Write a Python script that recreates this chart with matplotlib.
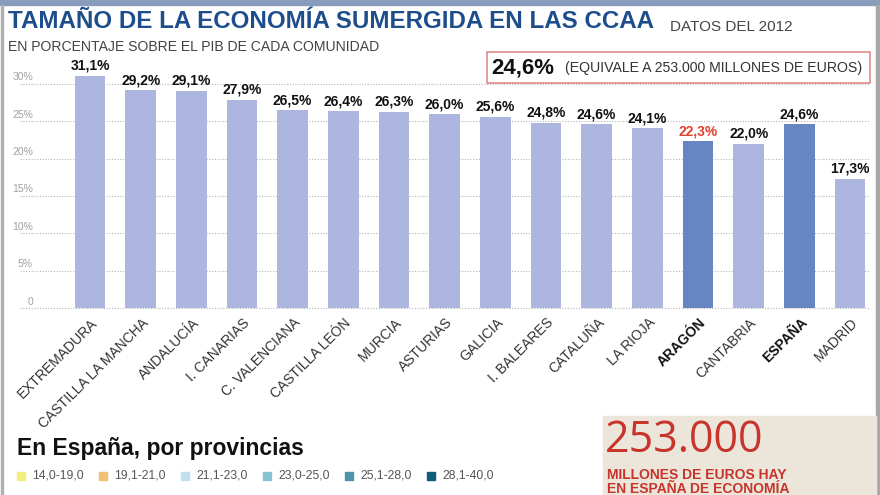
import matplotlib.pyplot as plt
from matplotlib.patches import Rectangle
import matplotlib.transforms as mtransforms

plt.rcParams['font.family'] = ['Liberation Sans', 'DejaVu Sans']

# datos
regiones = ['EXTREMADURA', 'CASTILLA LA MANCHA', 'ANDALUCÍA', 'I. CANARIAS',
            'C. VALENCIANA', 'CASTILLA LEÓN', 'MURCIA', 'ASTURIAS', 'GALICIA',
            'I. BALEARES', 'CATALUÑA', 'LA RIOJA', 'ARAGÓN', 'CANTABRIA',
            'ESPAÑA', 'MADRID']
valores = [31.1, 29.2, 29.1, 27.9, 26.5, 26.4, 26.3, 26.0, 25.6, 24.8,
           24.6, 24.1, 22.3, 22.0, 24.6, 17.3]
destacados = ['ARAGÓN', 'ESPAÑA']
y_ticks = [0, 5, 10, 15, 20, 25, 30]
y_labels = ['0', '5%', '10%', '15%', '20%', '25%', '30%']
rangos = ['14,0-19,0', '19,1-21,0', '21,1-23,0', '23,0-25,0', '25,1-28,0', '28,1-40,0']
colores_rango = ['#f3ee7e', '#f2c072', '#bfe1ef', '#86c3d3', '#4f93ab', '#0f5d78']

W, H = 880, 495
fig = plt.figure(figsize=(W / 100, H / 100), dpi=100)


def fx(px):
    return px / W


def fy(py):
    return 1 - py / H


# marco
fig.patches.append(Rectangle((0, fy(5)), 1, 5 / H, transform=fig.transFigure,
                             color='#8a9cbc', zorder=0))
fig.patches.append(Rectangle((fx(0.5), 0), 2 / W, fy(5), transform=fig.transFigure,
                             color='#b0b0b0', zorder=0))
fig.patches.append(Rectangle((fx(876), 0), 4 / W, fy(5), transform=fig.transFigure,
                             color='#a8a8a8', zorder=0))

ax = fig.add_axes([fx(20), fy(308), fx(870) - fx(20), (33 * 7.47) / H])
ax.set_xlim(-1.381, 15.394)
ax.set_ylim(0, 33)

colores = ['#6685c1' if r in destacados else '#adb6de' for r in regiones]
x = list(range(len(regiones)))
ax.bar(x, valores, width=0.61, color=colores, zorder=2)

for i, (r, v) in enumerate(zip(regiones, valores)):
    c = '#e0402e' if r == 'ARAGÓN' else '#111111'
    ax.annotate(f'{v:.1f}%'.replace('.', ','), (i, v), xytext=(0, 2),
                textcoords='offset points', ha='center', va='bottom',
                fontsize=10, fontweight='bold', color=c)
    bold = r in destacados
    ax.annotate(r, (i, 0), xytext=(4, -9), textcoords='offset points',
                rotation=45, rotation_mode='anchor', ha='right', va='center',
                fontsize=10, fontweight='bold' if bold else 'normal',
                color='#111111' if bold else '#333333')

ax.set_yticks(y_ticks)
ax.yaxis.grid(True, linestyle=(0, (1, 1.5)), color='#b8b8b8', linewidth=0.8, zorder=0)
ax.axhline(0, linestyle=(0, (1, 1.5)), color='#b8b8b8', linewidth=0.8, zorder=1,
           clip_on=False)
ax.set_yticklabels([])
ax.tick_params(length=0)
ax.set_xticks([])
for s in ax.spines.values():
    s.set_visible(False)
trans = mtransforms.blended_transform_factory(ax.transAxes, ax.transData)
for t, lab in zip(y_ticks, y_labels):
    ax.text(fx(33 - 20) / (fx(870) - fx(20)), t + 0.2, lab, transform=trans,
            ha='right', va='bottom', fontsize=7.5, color='#a0a0a0')

# textos cabecera
fig.text(fx(8), fy(22), 'TAMAÑO DE LA ECONOMÍA SUMERGIDA EN LAS CCAA',
         fontsize=17.4, fontweight='bold', color='#1e4d8c', va='center')
fig.text(fx(8), fy(47), 'EN PORCENTAJE SOBRE EL PIB DE CADA COMUNIDAD',
         fontsize=10.1, color='#444444', va='center')
fig.text(fx(670), fy(27), 'DATOS DEL 2012', fontsize=11, color='#444444', va='center')

fig.patches.append(Rectangle((fx(487), fy(83)), fx(870) - fx(487), 31 / H,
                             transform=fig.transFigure, facecolor='white',
                             edgecolor='#e08a8a', lw=1.2, zorder=1))
fig.text(fx(491), fy(68), '24,6%', fontsize=16, fontweight='bold', color='#111111',
         va='center')
fig.text(fx(565), fy(68), '(EQUIVALE A 253.000 MILLONES DE EUROS)', fontsize=10.2,
         color='#333333', va='center')

# provincias
fig.text(fx(17), fy(449), 'En España, por provincias', fontsize=16.5,
         fontweight='bold', color='#111111', va='center')
for i, (r, c) in enumerate(zip(rangos, colores_rango)):
    x0 = 17 + i * 82
    fig.patches.append(Rectangle((fx(x0), fy(480)), 8 / W, 8 / H,
                                 transform=fig.transFigure, color=c))
    fig.text(fx(x0 + 15), fy(476), r, fontsize=8.7, color='#555555', va='center')

# recuadro
fig.patches.append(Rectangle((fx(603), 0), fx(876) - fx(603), 79 / H,
                             transform=fig.transFigure, color='#ece6da', zorder=0))
fig.text(fx(605), fy(441), '253.000', fontsize=31, color='#c8342c', va='center',
         family=['Open Sans', 'DejaVu Sans'])
fig.text(fx(607), fy(475), 'MILLONES DE EUROS HAY', fontsize=10, fontweight='bold',
         color='#c8342c', va='center')
fig.text(fx(607), fy(489), 'EN ESPAÑA DE ECONOMÍA', fontsize=10, fontweight='bold',
         color='#c8342c', va='center')

fig.savefig('out.png', dpi=100)
